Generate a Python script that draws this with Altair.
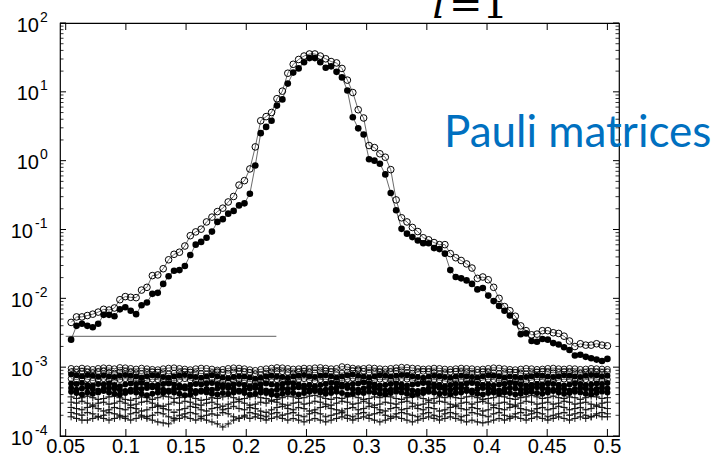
import altair as alt
import pandas as pd

# ---------------- data ----------------
x_values = [round(0.0545 + 0.0045 * i, 4) for i in range(100)]

# main curves, log10 of the value
open_main_log = [
    -2.35, -2.27, -2.27, -2.25, -2.23, -2.20, -2.16, -2.17, -2.14, -2.02,
    -1.975, -1.985, -1.99, -1.88, -1.84, -1.67, -1.66, -1.57, -1.44, -1.36,
    -1.33, -1.24, -1.09, -1.035, -0.995, -0.89, -0.82, -0.74, -0.69, -0.60,
    -0.52, -0.355, -0.29, -0.12, 0.20, 0.58, 0.64, 0.70, 0.90, 1.01,
    1.27, 1.40, 1.47, 1.52, 1.55, 1.55, 1.52, 1.48, 1.44, 1.42,
    1.34, 1.17, 0.99, 0.74, 0.62, 0.22, 0.19, 0.10, 0.05, -0.13,
    -0.57, -0.83, -0.89, -0.97, -1.03, -1.12, -1.15, -1.19, -1.22, -1.22,
    -1.35, -1.41, -1.45, -1.50, -1.56, -1.71, -1.69, -1.73, -1.84, -2.00,
    -2.12, -2.18, -2.26, -2.40, -2.47, -2.53, -2.52, -2.47, -2.47, -2.50,
    -2.51, -2.55, -2.62, -2.70, -2.66, -2.68, -2.68, -2.66, -2.68, -2.69,
]
filled_main_log = [
    -2.60, -2.40, -2.37, -2.40, -2.42, -2.37, -2.24, -2.24, -2.26, -2.16,
    -2.13, -2.18, -2.23, -2.10, -2.06, -1.935, -1.92, -1.79, -1.68, -1.60,
    -1.59, -1.53, -1.37, -1.22, -1.18, -1.12, -1.03, -0.89, -0.85, -0.77,
    -0.73, -0.65, -0.62, -0.48, -0.07, 0.40, 0.49, 0.58, 0.80, 0.89,
    1.12, 1.28, 1.34, 1.43, 1.49, 1.49, 1.43, 1.35, 1.37, 1.29,
    1.21, 1.02, 0.63, 0.47, 0.38, 0.02, 0.00, -0.045, -0.20, -0.47,
    -0.72, -0.99, -1.06, -1.11, -1.16, -1.20, -1.20, -1.27, -1.285, -1.35,
    -1.59, -1.69, -1.71, -1.74, -1.79, -1.87, -1.85, -1.96, -2.04, -2.11,
    -2.18, -2.25, -2.35, -2.52, -2.51, -2.62, -2.63, -2.59, -2.60, -2.65,
    -2.67, -2.71, -2.75, -2.83, -2.82, -2.85, -2.87, -2.89, -2.91, -2.88,
]

# background curves, in units of 1e-5
bg_open_1 = [
    96, 94, 97, 95, 93, 96, 98, 97, 95, 99,
    98, 96, 94, 97, 95, 93, 92, 95, 97, 98,
    96, 94, 92, 95, 97, 96, 94, 91, 93, 96,
    98, 97, 95, 92, 90, 93, 95, 97, 99, 98,
    96, 94, 95, 97, 96, 98, 99, 97, 95, 96,
    102, 100, 97, 95, 96, 98, 97, 95, 94, 96,
    98, 100, 99, 97, 96, 94, 95, 97, 96, 94,
    93, 95, 97, 96, 95, 93, 94, 96, 98, 97,
    95, 93, 92, 94, 96, 95, 93, 94, 96, 97,
    95, 94, 96, 95, 93, 94, 96, 95, 94, 93,
]
bg_open_2 = [
    86, 84, 87, 85, 83, 86, 88, 84, 82, 85,
    87, 85, 83, 81, 84, 86, 85, 83, 80, 82,
    84, 86, 85, 83, 81, 80, 83, 86, 84, 82,
    85, 87, 86, 84, 80, 78, 82, 85, 87, 86,
    84, 82, 85, 87, 85, 83, 86, 88, 86, 84,
    82, 85, 89, 91, 87, 84, 86, 85, 83, 86,
    88, 86, 84, 82, 85, 87, 86, 84, 81, 83,
    85, 87, 86, 84, 82, 84, 86, 85, 83, 81,
    83, 85, 84, 82, 80, 83, 85, 87, 85, 83,
    84, 86, 85, 83, 82, 84, 86, 85, 84, 86,
]
bg_filled_1 = [
    78, 76, 74, 77, 75, 73, 76, 74, 72, 75,
    77, 75, 73, 71, 74, 76, 75, 72, 70, 73,
    75, 77, 74, 72, 70, 73, 76, 74, 71, 69,
    72, 74, 73, 71, 68, 70, 73, 75, 74, 72,
    70, 73, 75, 77, 74, 72, 75, 76, 74, 71,
    73, 76, 78, 75, 73, 71, 74, 76, 75, 73,
    75, 77, 76, 74, 72, 70, 73, 75, 74, 72,
    70, 73, 75, 74, 72, 71, 74, 76, 75, 73,
    71, 73, 72, 70, 72, 74, 76, 75, 73, 72,
    74, 76, 75, 73, 72, 75, 77, 76, 74, 75,
]
bg_open_3 = [
    68, 66, 69, 67, 64, 66, 68, 65, 63, 66,
    68, 66, 64, 62, 65, 67, 66, 63, 61, 64,
    66, 68, 65, 63, 61, 64, 66, 65, 62, 60,
    63, 65, 64, 62, 60, 62, 65, 67, 66, 63,
    61, 64, 66, 68, 65, 63, 66, 67, 65, 62,
    64, 67, 69, 66, 64, 62, 65, 67, 66, 64,
    66, 68, 67, 65, 63, 61, 64, 66, 65, 63,
    61, 64, 66, 65, 63, 62, 65, 67, 66, 64,
    62, 64, 63, 61, 63, 65, 67, 66, 64, 63,
    65, 67, 66, 64, 63, 66, 68, 67, 65, 66,
]
bg_filled_2 = [
    58, 57, 59, 55, 54, 57, 56, 58, 55, 53,
    56, 58, 57, 59, 56, 54, 55, 57, 58, 56,
    54, 53, 55, 57, 56, 58, 59, 57, 55, 54,
    56, 57, 55, 53, 54, 56, 58, 56, 55, 57,
    59, 58, 56, 54, 55, 53, 55, 57, 59, 58,
    56, 55, 57, 58, 60, 58, 56, 54, 55, 57,
    58, 56, 54, 56, 57, 59, 58, 56, 55, 53,
    55, 57, 56, 58, 59, 57, 55, 56, 54, 56,
    57, 59, 58, 56, 54, 55, 57, 56, 58, 57,
    55, 54, 56, 58, 57, 55, 56, 58, 57, 59,
]
bg_filled_3 = [
    50, 47, 49, 51, 48, 46, 48, 50, 49, 47,
    45, 47, 49, 48, 50, 51, 49, 47, 46, 48,
    50, 49, 47, 45, 46, 48, 47, 49, 51, 50,
    48, 46, 47, 49, 50, 48, 46, 45, 47, 49,
    48, 50, 51, 49, 47, 48, 46, 47, 49, 50,
    52, 50, 48, 47, 49, 51, 50, 48, 46, 47,
    49, 50, 48, 46, 45, 47, 49, 51, 50, 48,
    47, 49, 50, 48, 46, 48, 50, 49, 47, 46,
    48, 50, 49, 47, 48, 50, 51, 49, 48, 47,
    49, 48, 46, 48, 50, 49, 47, 48, 50, 49,
]
bg_filled_4 = [
    44, 42, 40, 43, 41, 43, 45, 43, 41, 40,
    42, 44, 43, 41, 39, 41, 43, 42, 44, 43,
    41, 39, 40, 42, 44, 43, 41, 40, 42, 41,
    43, 44, 42, 40, 41, 43, 42, 40, 39, 41,
    43, 42, 40, 42, 44, 45, 43, 41, 42, 44,
    42, 40, 41, 43, 42, 44, 43, 41, 40, 42,
    44, 43, 41, 39, 41, 42, 44, 43, 41, 42,
    40, 42, 43, 45, 43, 41, 40, 42, 43, 41,
    43, 42, 40, 41, 43, 44, 42, 41, 43, 45,
    43, 41, 42, 44, 43, 41, 40, 42, 44, 43,
]
bg_plus_1 = [
    37, 35, 36, 38, 36, 34, 35, 37, 38, 36,
    34, 33, 35, 37, 36, 34, 36, 38, 37, 35,
    36, 38, 37, 35, 33, 34, 36, 35, 37, 38,
    36, 34, 35, 37, 38, 36, 35, 33, 34, 36,
    38, 37, 35, 36, 38, 39, 37, 35, 34, 36,
    35, 37, 38, 36, 34, 35, 37, 36, 38, 37,
    35, 34, 36, 38, 37, 35, 33, 35, 37, 36,
    38, 36, 35, 37, 38, 36, 34, 35, 36, 38,
    37, 35, 34, 36, 37, 39, 37, 35, 36, 38,
    36, 35, 37, 36, 34, 36, 38, 37, 35, 36,
]
bg_plus_2 = [
    31, 30, 32, 30, 28, 30, 31, 29, 30, 32,
    30, 28, 29, 31, 32, 30, 28, 27, 29, 31,
    30, 32, 31, 29, 28, 30, 31, 29, 27, 29,
    31, 32, 30, 28, 29, 31, 30, 32, 31, 29,
    28, 30, 31, 29, 30, 32, 31, 29, 28, 30,
    32, 31, 29, 30, 32, 30, 28, 29, 31, 30,
    29, 31, 32, 30, 28, 29, 31, 30, 32, 31,
    29, 28, 30, 31, 29, 31, 32, 30, 28, 30,
    31, 29, 28, 30, 32, 31, 29, 30, 31, 29,
    30, 32, 31, 29, 30, 31, 29, 28, 30, 31,
]
bg_plus_3 = [
    26, 25, 24, 26, 27, 25, 23, 24, 26, 25,
    24, 26, 25, 23, 24, 26, 27, 25, 24, 22,
    24, 25, 27, 26, 24, 23, 25, 26, 24, 25,
    27, 25, 24, 26, 25, 23, 22, 24, 26, 27,
    25, 24, 26, 25, 23, 24, 26, 27, 25, 24,
    23, 25, 26, 24, 25, 27, 26, 24, 23, 25,
    26, 24, 25, 27, 25, 24, 26, 25, 23, 24,
    26, 27, 25, 24, 26, 25, 23, 24, 26, 25,
    24, 26, 27, 25, 24, 23, 25, 26, 24, 25,
    27, 26, 24, 25, 26, 24, 25, 27, 26, 25,
]
bg_plus_4 = [
    22, 21, 20, 22, 21, 19, 20, 22, 21, 20,
    19, 21, 22, 20, 19, 20, 22, 21, 19, 18,
    20, 21, 22, 21, 19, 20, 21, 20, 22, 21,
    19, 18, 20, 22, 21, 20, 19, 21, 22, 20,
    21, 22, 20, 19, 21, 22, 21, 19, 20, 21,
    22, 20, 19, 21, 22, 20, 21, 22, 20, 19,
    21, 22, 21, 20, 19, 21, 22, 20, 19, 21,
    22, 21, 19, 20, 22, 21, 20, 19, 21, 22,
    20, 19, 21, 22, 20, 21, 22, 21, 19, 20,
    21, 22, 20, 21, 22, 20, 19, 21, 22, 21,
]
bg_plus_5 = [
    19, 18, 17, 17, 18, 19, 18, 17, 18, 19,
    18, 17, 18, 19, 18, 17, 16, 15.5, 15, 17,
    18, 19, 18, 17, 18, 17, 16, 15, 13.5, 15,
    17, 18, 19, 18, 19, 18, 17, 18, 19, 18,
    17, 18, 17, 16, 17, 18, 17, 16, 17, 18,
    19, 18, 17, 18, 19, 18, 17, 16, 17, 18,
    19, 18, 17, 16, 17, 18, 19, 18, 17, 18,
    19, 18, 17, 16, 17, 16, 15.5, 16, 17, 18,
    17, 18, 19, 18, 17, 18, 19, 18, 17, 18,
    19, 18, 17, 18, 19, 18, 19, 20, 19, 19,
]

background = [
    ("b01", "open", bg_open_1), ("b02", "open", bg_open_2),
    ("b03", "filled", bg_filled_1), ("b04", "open", bg_open_3),
    ("b05", "filled", bg_filled_2), ("b06", "filled", bg_filled_3),
    ("b07", "filled", bg_filled_4), ("b08", "plus", bg_plus_1),
    ("b09", "plus", bg_plus_2), ("b10", "plus", bg_plus_3),
    ("b11", "plus", bg_plus_4), ("b12", "plus", bg_plus_5),
]

ref_line_x = [0.05, 0.225]
ref_line_y = 2.8e-3

x_ticks = [0.05, 0.1, 0.15, 0.2, 0.25, 0.3, 0.35, 0.4, 0.45, 0.5]
x_tick_labels = ["0.05", "0.1", "0.15", "0.2", "0.25", "0.3", "0.35", "0.4", "0.45", "0.5"]
y_major = [1e-4, 1e-3, 1e-2, 1e-1, 1e0, 1e1, 1e2]
y_exponents = ["-4", "-3", "-2", "-1", "0", "1", "2"]
y_minor = [m * 10.0 ** k for k in range(-4, 2) for m in range(2, 10)]

# ---------------- tables ----------------
main_rows = []
for xv, lo, lf in zip(x_values, open_main_log, filled_main_log):
    main_rows.append({"x": xv, "y": 10 ** lo, "series": "open", "kind": "open"})
    main_rows.append({"x": xv, "y": 10 ** lf, "series": "filled", "kind": "filled"})
main_df = pd.DataFrame(main_rows)

bg_rows = []
for name, kind, vals in background:
    for xv, v in zip(x_values, vals):
        bg_rows.append({"x": xv, "y": v * 1e-5, "series": name, "kind": kind})
bg_df = pd.DataFrame(bg_rows)

ref_df = pd.DataFrame({"x": [ref_line_x[0]], "x2": [ref_line_x[1]], "y": [ref_line_y]})
xt_df = pd.DataFrame({"v": x_ticks, "label": x_tick_labels})
ymaj_df = pd.DataFrame({"v": y_major, "base": ["10"] * len(y_major), "exp": y_exponents})
ymin_df = pd.DataFrame({"v": y_minor})

W, H = 559, 413
xs = alt.Scale(domain=[0.04527, 0.50963], nice=False, zero=False)
ys = alt.Scale(type="log", domain=[1e-4, 1e2], nice=False)
X = alt.X("x:Q", scale=xs, axis=None)
Y = alt.Y("y:Q", scale=ys, axis=None)
PLUS = "M-1,0L1,0M0,-1L0,1"
FONT = "Liberation Sans"

bg = alt.Chart(bg_df)
bg_lines = bg.mark_line(color="#111", strokeWidth=0.7).encode(X, Y, detail="series:N")
bg_open = bg.transform_filter("datum.kind == 'open'").mark_point(
    shape="circle", filled=False, size=34, color="#000", strokeWidth=0.9, opacity=1).encode(X, Y)
bg_filled = bg.transform_filter("datum.kind == 'filled'").mark_point(
    shape="circle", filled=True, size=36, color="#000", opacity=1).encode(X, Y)
bg_plus = bg.transform_filter("datum.kind == 'plus'").mark_point(
    shape=PLUS, filled=False, size=50, color="#111", strokeWidth=1.0, opacity=1).encode(X, Y)

ref_rule = alt.Chart(ref_df).mark_rule(color="#808080", strokeWidth=1.3).encode(
    x=alt.X("x:Q", scale=xs, axis=None), x2="x2:Q", y=alt.Y("y:Q", scale=ys, axis=None))

mn = alt.Chart(main_df)
main_lines = mn.mark_line(color="#444", strokeWidth=0.8).encode(X, Y, detail="series:N")
main_open = mn.transform_filter("datum.kind == 'open'").mark_point(
    shape="circle", filled=False, size=44, color="#000", strokeWidth=1.0, opacity=1).encode(X, Y)
main_filled = mn.transform_filter("datum.kind == 'filled'").mark_point(
    shape="circle", filled=True, size=44, color="#000", opacity=1).encode(X, Y)

# frame ticks (pointing inward)
xt = alt.Chart(xt_df)
xv_enc = alt.X("v:Q", scale=xs, axis=None)
xt_bottom = xt.mark_rule(color="#000", strokeWidth=1).encode(x=xv_enc, y=alt.value(H), y2=alt.value(H - 7))
xt_top = xt.mark_rule(color="#000", strokeWidth=1).encode(x=xv_enc, y=alt.value(0), y2=alt.value(7))
xt_labels = xt.mark_text(font=FONT, fontSize=20, color="#000", align="center", baseline="alphabetic").encode(
    x=xv_enc, y=alt.value(H + 17), text="label:N")

yv_enc = alt.Y("v:Q", scale=ys, axis=None)
ymaj = alt.Chart(ymaj_df)
ymaj_left = ymaj.mark_rule(color="#000", strokeWidth=1).encode(y=yv_enc, x=alt.value(0), x2=alt.value(6))
ymaj_right = ymaj.mark_rule(color="#000", strokeWidth=1).encode(y=yv_enc, x=alt.value(W), x2=alt.value(W - 6))
ymin = alt.Chart(ymin_df)
ymin_left = ymin.mark_rule(color="#000", strokeWidth=0.8).encode(y=yv_enc, x=alt.value(0), x2=alt.value(3.5))
ymin_right = ymin.mark_rule(color="#000", strokeWidth=0.8).encode(y=yv_enc, x=alt.value(W), x2=alt.value(W - 3.5))

pos = ymaj.transform_filter("datum.v >= 1")
neg = ymaj.transform_filter("datum.v < 1")
base_pos = pos.mark_text(font=FONT, fontSize=20, align="right", baseline="alphabetic", dy=8.5).encode(
    y=yv_enc, x=alt.value(-21), text="base:N")
exp_pos = pos.mark_text(font=FONT, fontSize=14, align="left", baseline="alphabetic", dy=-1.5).encode(
    y=yv_enc, x=alt.value(-20), text="exp:N")
base_neg = neg.mark_text(font=FONT, fontSize=20, align="right", baseline="alphabetic", dy=8.5).encode(
    y=yv_enc, x=alt.value(-27), text="base:N")
exp_neg = neg.mark_text(font=FONT, fontSize=14, align="left", baseline="alphabetic", dy=-1.5).encode(
    y=yv_enc, x=alt.value(-25), text="exp:N")

note = alt.Chart(pd.DataFrame({"t": ["Pauli matrices"]})).mark_text(
    font="Lato", fontSize=44, color="#0070C0", align="left", baseline="alphabetic").encode(
    x=alt.value(384), y=alt.value(123.5), text="t:N")
math_i = alt.Chart(pd.DataFrame({"t": ["i"]})).mark_text(
    font="DejaVu Serif", fontSize=40, fontStyle="italic", color="#000", align="left", baseline="alphabetic").encode(
    x=alt.value(372), y=alt.value(-5), text="t:N")
math_rest = alt.Chart(pd.DataFrame({"t": ["=1"]})).mark_text(
    font="DejaVu Serif", fontSize=40, color="#000", align="left", baseline="alphabetic").encode(
    x=alt.value(389), y=alt.value(-5), text="t:N")

chart = alt.layer(
    bg_lines, bg_plus, bg_filled, bg_open, ref_rule, main_lines, main_filled, main_open,
    xt_bottom, xt_top, xt_labels, ymaj_left, ymaj_right, ymin_left, ymin_right,
    base_pos, exp_pos, base_neg, exp_neg, note, math_i, math_rest,
).properties(
    width=W, height=H,
    autosize=alt.AutoSizeParams(type="none"),
    padding={"left": 60, "top": 23, "right": 102, "bottom": 21},
    background="white",
).configure_view(stroke="#000", strokeWidth=1.2)

chart.save("out.html", embed_options={"renderer": "svg", "actions": False})
